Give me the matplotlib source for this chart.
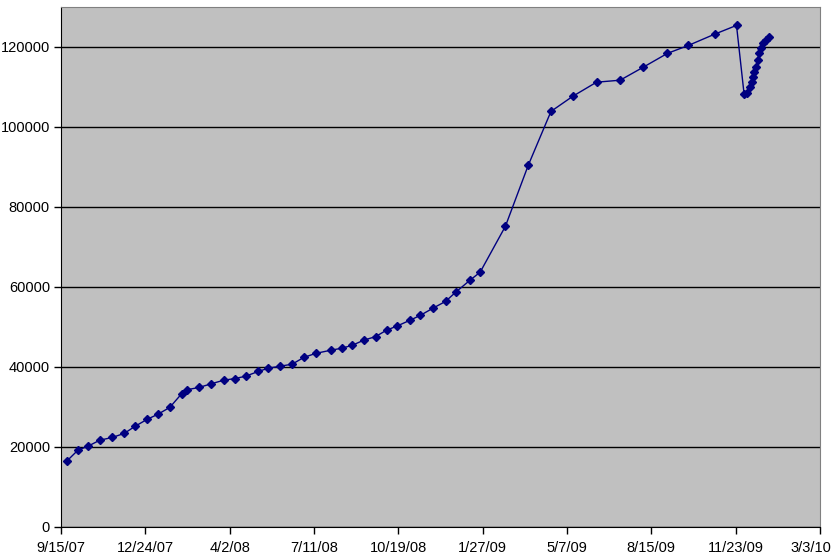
import pandas as pd
import numpy as np
import matplotlib.pyplot as plt
import matplotlib.transforms as mtransforms

# dates and totals
dates = ["9/22/07", "10/5/07", "10/17/07", "10/31/07", "11/15/07", "11/29/07", "12/12/07",
         "12/26/07", "1/8/08", "1/22/08", "2/5/08", "2/11/08", "2/26/08", "3/11/08",
         "3/26/08", "4/8/08", "4/21/08", "5/6/08", "5/18/08", "6/1/08", "6/15/08", "6/29/08",
         "7/13/08", "7/31/08", "8/13/08", "8/25/08", "9/8/08", "9/22/08", "10/5/08",
         "10/17/08", "11/2/08", "11/14/08", "11/29/08", "12/14/08", "12/26/08", "1/12/09",
         "1/24/09", "2/23/09", "3/22/09", "4/18/09", "5/14/09", "6/11/09", "7/9/09",
         "8/5/09", "9/3/09", "9/28/09", "10/29/09", "11/24/09", "12/3/09", "12/6/09",
         "12/10/09", "12/12/09", "12/14/09", "12/15/09", "12/17/09", "12/19/09", "12/21/09",
         "12/23/09", "12/26/09", "12/29/09", "1/1/10"]
values = [16500, 19200, 20200, 21700, 22400, 23400, 25200,
          26900, 28200, 29900, 33300, 34300, 34900, 35800,
          36700, 37100, 37700, 38900, 39700, 40200, 40700, 42400,
          43400, 44200, 44700, 45400, 46700, 47600, 49200,
          50200, 51700, 52900, 54700, 56400, 58700, 61700,
          63700, 75200, 90400, 103900, 107700, 111200, 111700,
          114900, 118400, 120400, 123200, 125400, 108200, 108600,
          110100, 111300, 112600, 113800, 115100, 116700, 118400,
          119700, 120900, 121700, 122600]

x_start = pd.Timestamp("2007-09-15")
x_end = pd.Timestamp("2010-03-03")
tick_step_days = 100

df = pd.DataFrame({"date": pd.to_datetime(dates, format="%m/%d/%y"), "total": values})

plt.rcParams["font.family"] = ["Liberation Sans", "DejaVu Sans"]

fig = plt.figure(figsize=(8.36, 5.58), dpi=100)
ax = fig.add_axes([61 / 836, 31 / 558, 759 / 836, 520 / 558])
ax.set_facecolor("#C0C0C0")

ax.plot(df["date"], df["total"], color="#000080", lw=1, marker="D", ms=4.5,
        mec="#000080", mfc="#000080", zorder=3)

ticks = pd.date_range(x_start, x_end, freq=f"{tick_step_days}D")
ax.set_xticks(ticks)
ax.set_xticklabels([f"{d.month}/{d.day}/{d.strftime('%y')}" for d in ticks])
ax.set_xlim(x_start, x_end)

ax.set_ylim(0, 130000)
ax.set_yticks(np.arange(0, 130000, 20000))
ax.yaxis.grid(True, color="black", lw=1)
ax.set_axisbelow(True)

ax.tick_params(axis="both", direction="out", length=5, width=1, labelsize=10.5, colors="black")
ax.tick_params(axis="x", pad=5)
ax.tick_params(axis="y", pad=3)

# the last date label is pulled left so it stays inside the figure, as Excel does
last = ax.get_xticklabels()[-1]
last.set_transform(last.get_transform() + mtransforms.ScaledTranslation(-9 / 100, 0, fig.dpi_scale_trans))

for side in ["top", "right"]:
    ax.spines[side].set_color("#808080")
for side in ["left", "bottom"]:
    ax.spines[side].set_color("black")

fig.savefig("out.png", dpi=100, facecolor="white")
